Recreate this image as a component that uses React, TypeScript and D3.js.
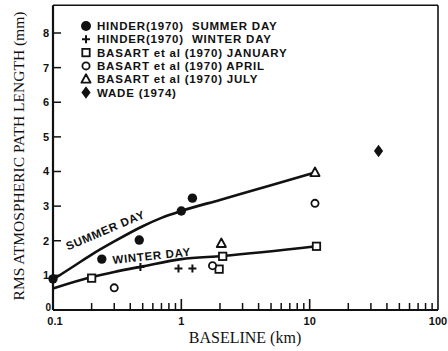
import React from 'react';
import * as d3 from 'd3';

const hinderSummer = [[0.1, 0.9], [0.24, 1.47], [0.47, 2.02], [1.0, 2.86], [1.22, 3.23]];
const hinderWinter = [[0.48, 1.24], [0.95, 1.2], [1.22, 1.2]];
const basartJan = [[0.2, 0.92], [1.97, 1.18], [2.1, 1.55], [11.3, 1.84]];
const basartApr = [[0.3, 0.64], [1.75, 1.28], [11, 3.08]];
const basartJul = [[2.05, 1.92], [11, 3.97]];
const wade = [[34.4, 4.59]];

// hand-drawn fit curves
const summerCurve = [[0.1, 0.88], [0.15, 1.3], [0.2, 1.6], [0.3, 1.98], [0.5, 2.42], [0.7, 2.66], [1, 2.86], [2, 3.18], [5, 3.6], [11, 3.97]];
const winterCurve = [[0.1, 0.62], [0.2, 0.95], [0.3, 1.1], [0.5, 1.26], [1, 1.47], [2.1, 1.56], [11.3, 1.84]];

const curveLabels = [
  { text: 'SUMMER DAY', x: 0.131, y: 1.72, angle: -23 },
  { text: 'WINTER DAY', x: 0.293, y: 1.33, angle: -6 },
];

const legendLabels = [
  'HINDER(1970)  SUMMER DAY',
  'HINDER(1970)  WINTER DAY',
  'BASART et al (1970) JANUARY',
  'BASART et al (1970) APRIL',
  'BASART et al (1970) JULY',
  'WADE (1974)',
];
const legendKinds = ['dot', 'plus', 'square', 'circle', 'triangle', 'diamond'];

const xTickLabels = ['0.1', '1', '10', '100'];
const yTickValues = [0, 1, 2, 3, 4, 5, 6, 7, 8];

const width = 448;
const height = 351;
const ink = '#111';
const boldFont = '"Liberation Sans", Arial, sans-serif';
const serifFont = '"Liberation Serif", "Times New Roman", serif';

const Marker: React.FC<{ kind: string; cx: number; cy: number; big?: boolean }> = ({ kind, cx, cy, big }) => {
  const t = `translate(${cx},${cy})`;
  switch (kind) {
    case 'dot':
      return <circle transform={t} r={big ? 5 : 4.7} fill={ink} />;
    case 'plus':
      return <path transform={t} d="M-4,0H4M0,-4V4" stroke={ink} strokeWidth={2} fill="none" />;
    case 'square':
      return <rect transform={t} x={-3.7} y={-3.7} width={7.4} height={7.4} fill="#fff" stroke={ink} strokeWidth={1.8} />;
    case 'circle':
      return <circle transform={t} r={3.6} fill="#fff" stroke={ink} strokeWidth={1.8} />;
    case 'triangle':
      return <path transform={t} d="M0,-5L4.6,3.5L-4.6,3.5Z" fill="#fff" stroke={ink} strokeWidth={1.8} strokeLinejoin="round" />;
    case 'diamond':
      return <path transform={t} d="M0,-6.2L4.6,0L0,6.2L-4.6,0Z" fill={ink} />;
    default:
      return null;
  }
};

export default function App() {
  const x = d3.scaleLog().domain([0.1, 100]).range([53, 438]);
  const y = d3.scaleLinear().domain([0, 8]).range([310, 33]);
  const yTop = y(8.8);

  const line = d3.line<number[]>()
    .x(d => x(d[0]))
    .y(d => y(d[1]))
    .curve(d3.curveMonotoneX);

  // log minor ticks (2..9 in each decade)
  const minorTicks: number[] = [];
  [0.1, 1, 10].forEach(dec => {
    for (let k = 2; k <= 9; k++) minorTicks.push(dec * k);
  });
  const majorTicks = [1, 10];

  const series: [number[][], string][] = [
    [hinderSummer, 'dot'],
    [hinderWinter, 'plus'],
    [basartJan, 'square'],
    [basartApr, 'circle'],
    [basartJul, 'triangle'],
    [wade, 'diamond'],
  ];

  return (
    <svg width={width} height={height} style={{ position: 'absolute', left: 0, top: 0, background: '#fff' }}>
      {/* frame */}
      <line x1={x(0.1)} x2={x(100)} y1={yTop} y2={yTop} stroke={ink} strokeWidth={1.4} />
      <line x1={x(100)} x2={x(100)} y1={yTop} y2={y(0)} stroke={ink} strokeWidth={1.6} />
      <line x1={x(0.1)} x2={x(0.1)} y1={yTop} y2={y(0)} stroke={ink} strokeWidth={2.2} />
      <line x1={x(0.1)} x2={x(100)} y1={y(0)} y2={y(0)} stroke={ink} strokeWidth={2.2} />

      {/* x ticks */}
      {minorTicks.map(v => (
        <line key={'mn' + v} x1={x(v)} x2={x(v)} y1={y(0)} y2={y(0) - 7} stroke={ink} strokeWidth={1.5} />
      ))}
      {majorTicks.map(v => (
        <line key={'mj' + v} x1={x(v)} x2={x(v)} y1={y(0)} y2={y(0) - 11} stroke={ink} strokeWidth={1.6} />
      ))}
      {xTickLabels.map(s => (
        <text key={s} x={x(+s) + (s === '0.1' ? 2 : 0)} y={325} textAnchor="middle"
          fontFamily={boldFont} fontWeight="bold" fontSize={11} fill={ink}>{s}</text>
      ))}

      {/* y ticks */}
      {yTickValues.map(v => (
        <g key={'y' + v}>
          {v > 0 && <line x1={x(0.1)} x2={x(0.1) + 8} y1={y(v)} y2={y(v)} stroke={ink} strokeWidth={1.5} />}
          <text x={v === 0 ? 51 : 49} y={y(v) - (v === 0 ? 3 : 0)} dy="0.36em" textAnchor="end"
            fontFamily={boldFont} fontWeight="bold" fontSize={v === 0 ? 10 : 11} fill={ink}>{v}</text>
        </g>
      ))}

      {/* axis titles */}
      <text x={245} y={343} textAnchor="middle" fontFamily={serifFont} fontSize={16} fill={ink}>BASELINE (km)</text>
      <text transform={`translate(24,156) rotate(-90)`} textAnchor="middle" fontFamily={serifFont} fontSize={15.5} fill={ink}>
        RMS ATMOSPHERIC PATH LENGTH (mm)
      </text>

      {/* fit curves */}
      <path d={line(summerCurve) || ''} fill="none" stroke={ink} strokeWidth={2.6} />
      <path d={line(winterCurve) || ''} fill="none" stroke={ink} strokeWidth={2.6} />
      {curveLabels.map(l => (
        <text key={l.text} transform={`translate(${x(l.x)},${y(l.y)}) rotate(${l.angle})`}
          fontFamily={boldFont} fontWeight="bold" fontSize={11.5} letterSpacing={0.7} fill={ink}>{l.text}</text>
      ))}

      {/* observations */}
      {series.map(([pts, kind]) => pts.map((p, i) => (
        <Marker key={kind + i} kind={kind} cx={x(p[0])} cy={y(p[1])} />
      )))}

      {/* legend */}
      {legendLabels.map((s, i) => (
        <g key={s} transform={`translate(86,${26 + i * 13.3})`}>
          <Marker kind={legendKinds[i]} cx={0} cy={0} big />
          <text x={11} y={0} dy="0.36em" fontFamily={boldFont} fontWeight="bold" fontSize={11.5}
            letterSpacing={0.8} fill={ink} style={{ whiteSpace: 'pre' }}>{s}</text>
        </g>
      ))}
    </svg>
  );
}
